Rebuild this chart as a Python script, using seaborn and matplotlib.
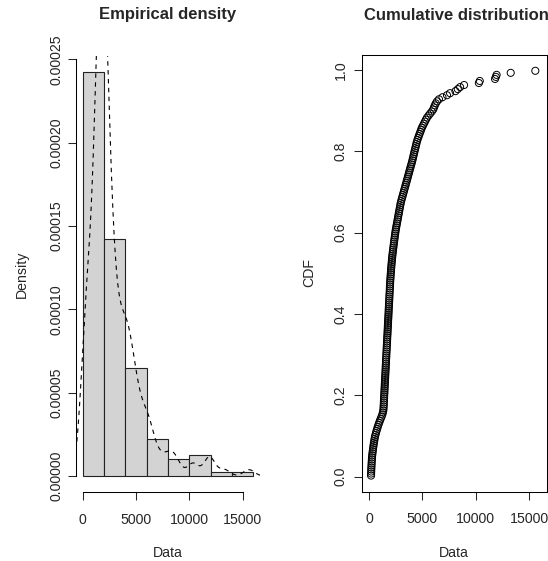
import numpy as np
import matplotlib
matplotlib.use("Agg")
import matplotlib.pyplot as plt
import seaborn as sns
from matplotlib.ticker import FormatStrFormatter

obs_0_2k = [190, 196, 204, 212, 221, 233, 242, 256, 268, 281,
            300, 322, 347, 371,
            398, 427, 455, 488, 517, 552,
            598, 655, 703, 762, 818, 884,
            951, 1023, 1098, 1176, 1247, 1298, 1339,
            1358, 1367, 1381, 1390, 1399, 1412, 1418, 1431, 1442, 1448, 1461, 1472, 1479, 1493,
            1502, 1511, 1518, 1532, 1540, 1551, 1563, 1569, 1582, 1591, 1598, 1612, 1621,
            1628, 1642, 1651, 1659, 1668, 1683, 1690, 1702, 1708, 1721, 1733, 1739, 1752, 1761, 1769,
            1782, 1788, 1801, 1812, 1819, 1833, 1841, 1848, 1862, 1871, 1879, 1893, 1901, 1912, 1918,
            1933, 1941, 1952, 1958, 1972, 1981, 1993]
obs_2k_4k = [2008, 2021, 2035, 2049, 2063, 2079, 2094, 2112, 2129, 2147, 2166, 2185,
             2207, 2231, 2254, 2279, 2302, 2328, 2351, 2377, 2403, 2429, 2456, 2482,
             2512, 2547, 2581, 2617, 2652, 2688, 2721, 2757, 2793, 2828, 2864, 2899, 2935, 2972,
             3018, 3071, 3122, 3176, 3229, 3281, 3334, 3386, 3439, 3491, 3544, 3596, 3649,
             3702, 3754, 3807, 3859, 3912, 3964]
obs_4k_6k = [4021, 4068, 4112, 4159, 4203, 4248, 4296, 4341, 4387, 4432, 4478,
             4536, 4604, 4671, 4743, 4812, 4884, 4953,
             5052, 5147, 5243, 5338, 5441,
             5586, 5731, 5889]
obs_6k_8k = [6020, 6090, 6170, 6260, 6380, 6560, 6884, 7310, 7598]
obs_8k_10k = [8105, 8322, 8541, 8912]
obs_10k_12k = [10298, 10384, 11812, 11893, 11961]
obs_12k_14k = [13284]
obs_14k_16k = [15592]

breaks = [0, 2000, 4000, 6000, 8000, 10000, 12000, 14000, 16000]
x_ticks = [0, 5000, 10000, 15000]
dens_ticks = [0, 0.00005, 0.0001, 0.00015, 0.0002, 0.00025]
cdf_ticks = [0, 0.2, 0.4, 0.6, 0.8, 1.0]

data = np.array(obs_0_2k + obs_2k_4k + obs_4k_6k + obs_6k_8k + obs_8k_10k
                + obs_10k_12k + obs_12k_14k + obs_14k_16k, dtype=float)
n = len(data)

sns.set_style("ticks")
plt.rcParams['font.family'] = ['Liberation Sans', 'DejaVu Sans']
plt.rcParams['axes.linewidth'] = 0.75

W, H = 548, 561
FS = 10.2
fig = plt.figure(figsize=(W / 100, H / 100), dpi=100)
ax1 = fig.add_axes([75.9 / W, 1 - 492.2 / H, 184.2 / W, (492.2 - 55.8) / H])
ax2 = fig.add_axes([362.2 / W, 1 - 491.8 / H, 184.3 / W, (491.8 - 54.6) / H])

# empirical density: histogram + kernel density (R bw.nrd0)
sns.histplot(x=data, bins=breaks, stat="density", color="#d3d3d3", alpha=1,
             edgecolor="#222222", linewidth=0.8, ax=ax1)
q75, q25 = np.percentile(data, [75, 25])
bw = 0.9 * min(data.std(ddof=1), (q75 - q25) / 1.34) * n ** (-0.2)
sns.kdeplot(x=data, bw_method=bw / data.std(ddof=1), cut=3, gridsize=512,
            color="black", linestyle=(0, (4, 4)), linewidth=0.8, ax=ax1)

hmax = np.histogram(data, bins=breaks, density=True)[0].max()
ax1.set_xlim(breaks[0] - 0.04 * (breaks[-1] - breaks[0]),
             breaks[-1] + 0.04 * (breaks[-1] - breaks[0]))
ax1.set_ylim(-0.04 * hmax, 1.04 * hmax)
ax1.set_xticks(x_ticks)
ax1.set_yticks(dens_ticks)
ax1.yaxis.set_major_formatter(FormatStrFormatter('%.5f'))
ax1.spines['top'].set_visible(False)
ax1.spines['right'].set_visible(False)
ax1.spines['bottom'].set_bounds(x_ticks[0], x_ticks[-1])
ax1.spines['left'].set_bounds(dens_ticks[0], dens_ticks[-1])
for sp in ax1.spines.values():
    sp.set_color("black")
ax1.set_xlabel("")
ax1.set_ylabel("")
ax1.tick_params(axis='x', length=5.8, width=0.75, pad=9.4, labelsize=FS)
ax1.tick_params(axis='y', length=5.8, width=0.75, pad=3.0, labelsize=FS,
                labelrotation=90)
for lab in ax1.get_yticklabels():
    lab.set_va('center')

# cumulative distribution
xs = np.sort(data)
ps = (np.arange(1, n + 1) - 0.5) / n
sns.scatterplot(x=xs, y=ps, marker='o', s=26, facecolor='none',
                edgecolor='black', linewidth=0.7, ax=ax2)
ax2.set_xlim(breaks[0] - 0.04 * (breaks[-1] - breaks[0]),
             breaks[-1] + 0.04 * (breaks[-1] - breaks[0]))
pr = ps.max() - ps.min()
ax2.set_ylim(ps.min() - 0.04 * pr, ps.max() + 0.04 * pr)
ax2.set_xticks(x_ticks)
ax2.set_yticks(cdf_ticks)
ax2.yaxis.set_major_formatter(FormatStrFormatter('%.1f'))
for sp in ax2.spines.values():
    sp.set_color("black")
ax2.set_xlabel("")
ax2.set_ylabel("")
ax2.tick_params(axis='x', length=5.8, width=0.75, pad=9.0, labelsize=FS)
ax2.tick_params(axis='y', length=5.8, width=0.75, pad=4.8, labelsize=FS,
                labelrotation=90)
for lab in ax2.get_yticklabels():
    lab.set_va('center')

# titles and axis labels
fig.text(168 / W, 1 - 15 / H, "Empirical density", ha='center', va='center',
         fontsize=12, fontweight='bold')
fig.text(456 / W, 1 - 15 / H, "Cumulative distribution", ha='center', va='center',
         fontsize=12, fontweight='bold')
fig.text(168 / W, 1 - 553 / H, "Data", ha='center', va='center', fontsize=FS)
fig.text(454 / W, 1 - 553 / H, "Data", ha='center', va='center', fontsize=FS)
fig.text(22 / W, 1 - 274 / H, "Density", ha='center', va='center',
         rotation=90, fontsize=FS)
fig.text(309 / W, 1 - 273 / H, "CDF", ha='center', va='center',
         rotation=90, fontsize=FS)

fig.savefig("out.png", dpi=100)
